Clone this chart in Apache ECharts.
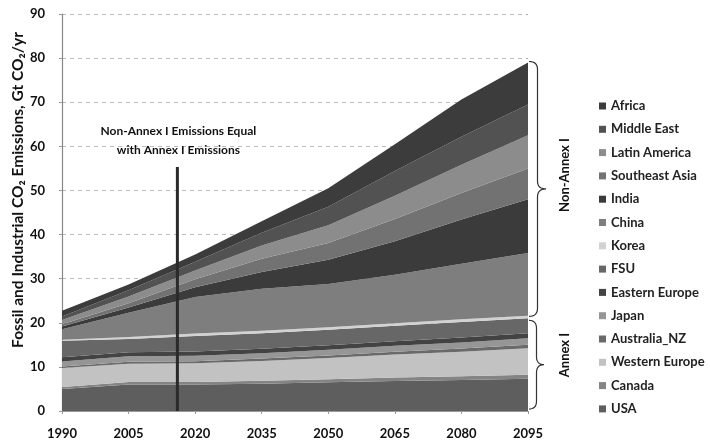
<!DOCTYPE html>
<html>
<head>
<meta charset="utf-8">
<script src="https://cdn.jsdelivr.net/npm/echarts@6/dist/echarts.min.js"></script>
<style>
  html, body { margin: 0; padding: 0; background: #fff; }
  #chart { width: 710px; height: 444px; }
</style>
</head>
<body>
<div id="chart"></div>
<script>
// Fossil and industrial CO2 emissions by region, Gt CO2/yr
const years = ['1990', '2005', '2020', '2035', '2050', '2065', '2080', '2095'];

// Annex I regions (bottom of the stack)
const usa          = [5.0, 6.0, 6.0, 6.2, 6.5, 6.8, 7.0, 7.3];
const canada       = [0.45, 0.6, 0.6, 0.65, 0.7, 0.8, 0.85, 0.9];
const westernEurope= [4.3, 4.1, 4.2, 4.5, 4.8, 5.2, 5.6, 6.0];
const australiaNZ  = [0.35, 0.45, 0.5, 0.55, 0.6, 0.65, 0.7, 0.8];
const japan        = [1.1, 1.25, 1.2, 1.2, 1.3, 1.35, 1.4, 1.5];
const easternEurope= [1.0, 0.9, 1.0, 1.0, 1.0, 1.0, 1.1, 1.1];
const fsu          = [3.7, 3.0, 3.5, 3.5, 3.5, 3.5, 3.55, 3.4];

// Non-Annex I regions (top of the stack)
const korea        = [0.25, 0.45, 0.55, 0.6, 0.6, 0.6, 0.6, 0.6];
const china        = [2.4, 5.5, 8.3, 9.5, 9.8, 11.0, 12.6, 14.2];
const india        = [0.6, 1.2, 2.2, 3.8, 5.5, 7.6, 10.0, 12.2];
const southeastAsia= [0.5, 1.0, 1.8, 3.0, 3.8, 5.0, 6.0, 7.0];
const latinAmerica = [1.0, 1.5, 2.0, 3.0, 4.0, 5.3, 6.4, 7.5];
const middleEast   = [0.8, 1.4, 2.0, 2.9, 4.2, 5.6, 6.4, 7.0];
const africa       = [1.25, 1.35, 1.65, 2.6, 4.2, 6.1, 8.4, 9.5];

// Year at which Non-Annex I emissions equal Annex I emissions
const crossoverYear = 2016;
const crossoverLineTop = 55.3;

const yTicks = [0, 10, 20, 30, 40, 50, 60, 70, 80, 90];

const FONT = 'Lato, "Open Sans", sans-serif';

const regions = [
  { name: 'USA',            data: usa,           color: '#5e5e5e' },
  { name: 'Canada',         data: canada,        color: '#848484' },
  { name: 'Western Europe', data: westernEurope, color: '#c2c2c2' },
  { name: 'Australia_NZ',   data: australiaNZ,   color: '#6a6a6a' },
  { name: 'Japan',          data: japan,         color: '#969696' },
  { name: 'Eastern Europe', data: easternEurope, color: '#434343' },
  { name: 'FSU',            data: fsu,           color: '#676767' },
  { name: 'Korea',          data: korea,         color: '#d2d2d2' },
  { name: 'China',          data: china,         color: '#7e7e7e' },
  { name: 'India',          data: india,         color: '#3b3b3b' },
  { name: 'Southeast Asia', data: southeastAsia, color: '#727272' },
  { name: 'Latin America',  data: latinAmerica,  color: '#8c8c8c' },
  { name: 'Middle East',    data: middleEast,    color: '#525252' },
  { name: 'Africa',         data: africa,        color: '#3c3c3c' }
];

const chart = echarts.init(document.getElementById('chart'), null, { renderer: 'canvas' });

const areaSeries = regions.map(r => ({
  name: r.name,
  type: 'line',
  stack: 'total',
  data: r.data,
  symbol: 'none',
  lineStyle: { width: 0 },
  areaStyle: { color: r.color, opacity: 1 },
  itemStyle: { color: r.color },
  emphasis: { disabled: true },
  z: 2
}));

chart.setOption({
  animation: false,
  backgroundColor: '#ffffff',
  grid: { left: 62, right: 182, top: 14, bottom: 33, containLabel: false },
  legend: {
    orient: 'vertical',
    left: 599,
    top: 99,
    padding: 0,
    itemWidth: 7,
    itemHeight: 7,
    itemGap: 9.3,
    icon: 'rect',
    data: regions.map(r => r.name).reverse(),
    textStyle: { fontFamily: FONT, fontSize: 13, fontWeight: 'bold', color: '#222', lineHeight: 14 }
  },
  xAxis: [
    {
      type: 'category',
      data: years,
      boundaryGap: false,
      axisLine: { show: true, lineStyle: { color: '#999', width: 1 } },
      axisTick: { show: true, length: 3, lineStyle: { color: '#999' } },
      axisLabel: { margin: 16, fontFamily: FONT, fontSize: 13, fontWeight: 'bold', color: '#111' },
      splitLine: { show: false }
    },
    {
      type: 'value',
      min: 1990,
      max: 2095,
      show: false
    }
  ],
  yAxis: {
    type: 'value',
    min: yTicks[0],
    max: yTicks[yTicks.length - 1],
    interval: 10,
    axisLine: { show: true, lineStyle: { color: '#888', width: 1.2 } },
    axisTick: { show: true, length: 3, lineStyle: { color: '#999' } },
    axisLabel: { margin: 17, fontFamily: FONT, fontSize: 13, fontWeight: 'bold', color: '#111' },
    splitLine: { show: true, lineStyle: { color: '#aaa', type: [4, 4], width: 0.8 } }
  },
  series: areaSeries.concat([
    {
      name: 'crossover',
      type: 'line',
      xAxisIndex: 1,
      data: [[crossoverYear, 0], [crossoverYear, crossoverLineTop]],
      symbol: 'none',
      lineStyle: { color: '#2a2a2a', width: 3 },
      emphasis: { disabled: true },
      z: 5
    }
  ])
});

// Braces and side annotations, placed from the axis scale
function yPix(v) { return chart.convertToPixel({ yAxisIndex: 0 }, v); }
const total2095 = regions.reduce((s, r) => s + r.data[r.data.length - 1], 0);
const annex2095 = regions.slice(0, 7).reduce((s, r) => s + r.data[r.data.length - 1], 0);

// Curly brace "}" as a sampled polyline
function bracePoints(x0, yTop, yBot, w) {
  const ym = (yTop + yBot) / 2;
  const xm = x0 + w / 2;
  const r = Math.min(8, (yBot - yTop) / 6);
  const pts = [];
  function quad(p0, c, p1) {
    for (let i = 0; i <= 8; i++) {
      const t = i / 8, u = 1 - t;
      pts.push([u * u * p0[0] + 2 * u * t * c[0] + t * t * p1[0],
                u * u * p0[1] + 2 * u * t * c[1] + t * t * p1[1]]);
    }
  }
  quad([x0, yTop], [xm, yTop], [xm, yTop + r]);
  pts.push([xm, ym - r]);
  quad([xm, ym - r], [xm, ym], [x0 + w, ym]);
  quad([x0 + w, ym], [xm, ym], [xm, ym + r]);
  pts.push([xm, yBot - r]);
  quad([xm, yBot - r], [xm, yBot], [x0, yBot]);
  return pts;
}

const yTopNA = yPix(total2095) - 1;
const yMid = yPix(annex2095);
const yBase = yPix(0) - 2;

chart.setOption({
  graphic: [
    {
      type: 'polyline',
      shape: { points: bracePoints(529, yTopNA, yMid - 2, 17) },
      style: { fill: null, stroke: '#333', lineWidth: 1.2 }
    },
    {
      type: 'polyline',
      shape: { points: bracePoints(529, yMid + 2, yBase, 15) },
      style: { fill: null, stroke: '#333', lineWidth: 1.2 }
    },
    {
      type: 'text',
      x: 565, y: 175,
      rotation: Math.PI / 2,
      style: {
        text: 'Non-Annex I',
        fontFamily: FONT, fontSize: 13, fontWeight: 'bold', fill: '#111',
        align: 'center', verticalAlign: 'middle'
      }
    },
    {
      type: 'text',
      x: 565, y: 355,
      rotation: Math.PI / 2,
      style: {
        text: 'Annex I',
        fontFamily: FONT, fontSize: 13, fontWeight: 'bold', fill: '#111',
        align: 'center', verticalAlign: 'middle'
      }
    },
    {
      type: 'text',
      x: 18, y: 190,
      rotation: Math.PI / 2,
      style: {
        text: 'Fossil and Industrial CO\u2082 Emissions, Gt CO\u2082/yr',
        fontFamily: FONT, fontSize: 15.5, fontWeight: 'bold', fill: '#111',
        align: 'center', verticalAlign: 'middle'
      }
    },
    {
      type: 'text',
      x: chart.convertToPixel({ xAxisIndex: 1 }, crossoverYear) + 1,
      y: 141,
      style: {
        text: 'Non-Annex I Emissions Equal\nwith Annex I Emissions',
        fontFamily: FONT, fontSize: 12, fontWeight: 'bold', fill: '#111',
        align: 'center', verticalAlign: 'middle', lineHeight: 19
      }
    }
  ]
});
</script>
</body>
</html>
